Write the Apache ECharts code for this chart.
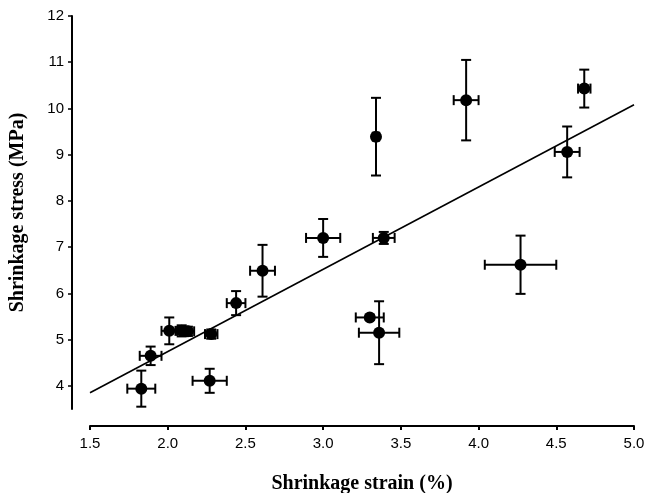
<!DOCTYPE html>
<html>
<head>
<meta charset="utf-8">
<script src="https://cdn.jsdelivr.net/npm/echarts@6/dist/echarts.min.js"></script>
<style>html,body{margin:0;padding:0;background:#fff}#c{width:645px;height:493px}</style>
</head>
<body>
<div id="c"></div>
<script>
var strain    = [1.83, 1.89, 2.01, 2.09, 2.13, 2.28, 2.27, 2.44, 2.61, 3.00, 3.39, 3.30, 3.36, 3.34, 3.92, 4.27, 4.57, 4.68];
var stress    = [3.94, 4.65, 5.19, 5.19, 5.18, 5.12, 4.11, 5.79, 6.49, 7.20, 7.20, 5.48, 5.15, 9.39, 10.18, 6.62, 9.06, 10.43];
var strainErr = [0.09, 0.07, 0.05, 0.04, 0.04, 0.04, 0.11, 0.06, 0.08, 0.11, 0.07, 0.09, 0.13, 0.02, 0.08, 0.23, 0.08, 0.04];
var stressErr = [0.39, 0.20, 0.29, 0.12, 0.10, 0.10, 0.26, 0.26, 0.56, 0.41, 0.13, 0.05, 0.68, 0.84, 0.87, 0.63, 0.55, 0.41];
var fitX = [1.5, 5.0];
var fitY = [3.85, 10.08];
var yTicks = [4, 5, 6, 7, 8, 9, 10, 11, 12];

var points = strain.map(function (x, i) { return [x, stress[i]]; });
var errData = strain.map(function (x, i) { return [x, stress[i], strainErr[i], stressErr[i]]; });
var fitData = fitX.map(function (x, i) { return [x, fitY[i]]; });

var chart = echarts.init(document.getElementById('c'));
var st = { stroke: '#000', lineWidth: 2 };
chart.setOption({
  animation: false,
  grid: { left: 90, right: 11, top: 16, bottom: 84, outerBoundsMode: 'none', containLabel: false },
  xAxis: {
    type: 'value', min: 1.5, max: 5.0, interval: 0.5, offset: 17,
    name: 'Shrinkage strain (%)', nameLocation: 'middle', nameGap: 48,
    nameTextStyle: { fontFamily: 'Liberation Serif', fontWeight: 'bold', fontSize: 20, color: '#000' },
    axisLine: { lineStyle: { color: '#000', width: 2 } },
    axisTick: { length: 4, lineStyle: { color: '#000', width: 2 } },
    axisLabel: { fontFamily: 'Liberation Sans', fontSize: 15, color: '#000', margin: 10,
      formatter: function (v) { return v.toFixed(1); } },
    splitLine: { show: false }
  },
  yAxis: {
    type: 'value', min: 3.5, max: 12, interval: 0.5, offset: 18,
    name: 'Shrinkage stress (MPa)', nameLocation: 'middle', nameGap: 44,
    nameTextStyle: { fontFamily: 'Liberation Serif', fontWeight: 'bold', fontSize: 20, color: '#000' },
    axisLine: { show: true, lineStyle: { color: '#000', width: 2 } },
    axisTick: { show: true, length: 4, customValues: yTicks, lineStyle: { color: '#000', width: 1.5 } },
    axisLabel: { fontFamily: 'Liberation Sans', fontSize: 15, color: '#000', margin: 8, customValues: yTicks },
    splitLine: { show: false }
  },
  series: [
    {
      type: 'line', data: fitData, symbol: 'none',
      lineStyle: { color: '#000', width: 1.6 }, z: 1
    },
    {
      type: 'custom', data: errData, z: 2,
      renderItem: function (params, api) {
        var x = api.value(0), y = api.value(1), ex = api.value(2), ey = api.value(3);
        var l = api.coord([x - ex, y]), r = api.coord([x + ex, y]);
        var t = api.coord([x, y + ey]), b = api.coord([x, y - ey]);
        var c = 5;
        return { type: 'group', children: [
          { type: 'line', shape: { x1: l[0], y1: l[1], x2: r[0], y2: r[1] }, style: st },
          { type: 'line', shape: { x1: l[0], y1: l[1] - c, x2: l[0], y2: l[1] + c }, style: st },
          { type: 'line', shape: { x1: r[0], y1: r[1] - c, x2: r[0], y2: r[1] + c }, style: st },
          { type: 'line', shape: { x1: t[0], y1: t[1], x2: b[0], y2: b[1] }, style: st },
          { type: 'line', shape: { x1: t[0] - c, y1: t[1], x2: t[0] + c, y2: t[1] }, style: st },
          { type: 'line', shape: { x1: b[0] - c, y1: b[1], x2: b[0] + c, y2: b[1] }, style: st }
        ]};
      }
    },
    {
      type: 'scatter', data: points, symbol: 'circle', symbolSize: 12,
      itemStyle: { color: '#000', opacity: 1 }, z: 3
    }
  ]
});
</script>
</body>
</html>
